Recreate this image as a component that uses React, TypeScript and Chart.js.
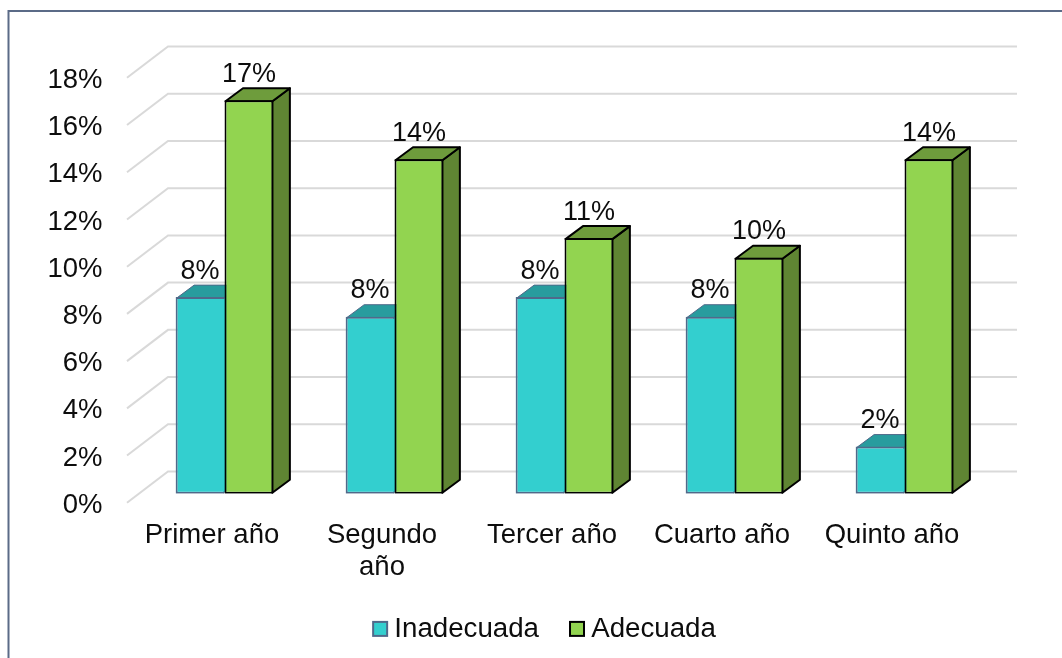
import React, { useEffect, useRef } from "react";
import { Chart, registerables } from "chart.js";

Chart.register(...registerables);

const categories = ["Primer año", ["Segundo", "año"], "Tercer año", "Cuarto año", "Quinto año"];
const inadecuada = [8.33, 7.5, 8.33, 7.5, 2.0];
const adecuada = [16.67, 14.17, 10.83, 10.0, 14.17];
const FONT = '"Liberation Sans", Arial, sans-serif';
const TEXT = "#0d0d0d";

const faces = [
  { front: "#33CFCF", top: "#289C9E", side: "#289C9E", edge: "#50698A" },
  { front: "#92D450", top: "#6E9C3C", side: "#5F8533", edge: "#000000" },
];

const BAR_DX = 17.5;
const BAR_DY = 13;
const WALL = { frontDx: -12.5, frontDy: 9, backDx: 28.5, backDy: -22.3, rightDx: 27.5 };

function poly(ctx: CanvasRenderingContext2D, pts: number[][], fill: string, stroke: string, w: number) {
  ctx.beginPath();
  pts.forEach((p, i) => (i ? ctx.lineTo(p[0], p[1]) : ctx.moveTo(p[0], p[1])));
  ctx.closePath();
  ctx.fillStyle = fill;
  ctx.fill();
  ctx.strokeStyle = stroke;
  ctx.lineWidth = w;
  ctx.lineJoin = "round";
  ctx.stroke();
}

const threeD = {
  id: "threeD",
  beforeDraw(chart: any) {
    const { ctx, width, height } = chart;
    ctx.save();
    ctx.fillStyle = "#ffffff";
    ctx.fillRect(0, 0, width, height);
    ctx.strokeStyle = "#5B6B87";
    ctx.lineWidth = 2;
    ctx.beginPath();
    ctx.moveTo(8.5, height + 5);
    ctx.lineTo(8.5, 11);
    ctx.lineTo(width + 5, 11);
    ctx.stroke();
    ctx.restore();
  },
  beforeDatasetsDraw(chart: any) {
    const { ctx, chartArea, scales } = chart;
    const y = scales.y;
    ctx.save();
    ctx.strokeStyle = "#D9D9D9";
    ctx.lineWidth = 2;
    y.ticks.forEach((t: any) => {
      const p = y.getPixelForValue(t.value);
      ctx.beginPath();
      ctx.moveTo(chartArea.left + WALL.frontDx, p + WALL.frontDy);
      ctx.lineTo(chartArea.left + WALL.backDx, p + WALL.backDy);
      ctx.lineTo(chartArea.right + WALL.rightDx, p + WALL.backDy);
      ctx.stroke();
    });
    chart.data.datasets.forEach((_: any, di: number) => {
      const f = faces[di];
      const lw = di === 0 ? 1 : 2;
      chart.getDatasetMeta(di).data.forEach((b: any) => {
        const x1 = b.x - b.width / 2;
        const x2 = b.x + b.width / 2;
        poly(ctx, [[x2 - 1, b.y + 1], [x2 - 1 + BAR_DX, b.y + 1 - BAR_DY], [x2 - 1 + BAR_DX, b.base - 1 - BAR_DY], [x2 - 1, b.base - 1]], f.side, f.edge, lw);
        poly(ctx, [[x1 + 1, b.y + 1], [x1 + 1 + BAR_DX, b.y + 1 - BAR_DY], [x2 - 1 + BAR_DX, b.y + 1 - BAR_DY], [x2 - 1, b.y + 1]], f.top, f.edge, lw);
      });
    });
    ctx.restore();
  },
  afterDatasetsDraw(chart: any) {
    const { ctx } = chart;
    ctx.save();
    ctx.font = `27px ${FONT}`;
    ctx.fillStyle = TEXT;
    ctx.textAlign = "center";
    ctx.textBaseline = "middle";
    chart.data.datasets.forEach((ds: any, di: number) => {
      chart.getDatasetMeta(di).data.forEach((b: any, i: number) => {
        ctx.fillText(`${Number(ds.data[i]).toFixed(0)}%`, b.x, b.y - 26);
      });
    });
    ctx.restore();
  },
  afterDraw(chart: any) {
    const { ctx, legend } = chart;
    if (!legend || !legend.legendHitBoxes) return;
    ctx.save();
    legend.legendHitBoxes.forEach((h: any, i: number) => {
      const cy = h.top + h.height / 2;
      ctx.fillStyle = faces[i].front;
      ctx.strokeStyle = faces[i].edge;
      ctx.lineWidth = 2;
      ctx.fillRect(h.left, cy - 7, 14, 14);
      ctx.strokeRect(h.left, cy - 7, 14, 14);
    });
    ctx.restore();
  },
};

export default function App() {
  const ref = useRef<HTMLCanvasElement | null>(null);
  useEffect(() => {
    if (!ref.current) return;
    const chart = new Chart(ref.current, {
      type: "bar",
      plugins: [threeD],
      data: {
        labels: categories as any,
        datasets: [
          {
            label: "Inadecuada",
            data: inadecuada,
            backgroundColor: faces[0].front,
            borderColor: faces[0].edge,
            borderWidth: 2,
            borderSkipped: "right",
            yAxisID: "y",
          },
          {
            label: "Adecuada",
            data: adecuada,
            backgroundColor: faces[1].front,
            borderColor: faces[1].edge,
            borderWidth: 2,
            borderSkipped: false,
            yAxisID: "y",
          },
        ],
      },
      options: {
        responsive: false,
        animation: false,
        layout: { padding: { left: 27, right: 0, top: 68.8, bottom: 5.25 } },
        datasets: { bar: { categoryPercentage: 0.575, barPercentage: 1 } },
        scales: {
          x: {
            grid: { display: false, drawTicks: false },
            border: { display: false },
            afterFit: (s: any) => { s.height = 90.25; },
            ticks: {
              font: { family: FONT, size: 27.5, lineHeight: 1.16 },
              color: TEXT,
              padding: 26,
              maxRotation: 0,
              minRotation: 0,
              autoSkip: false,
              labelOffset: -12.5,
            },
          },
          y: {
            min: 0,
            max: 18,
            grid: { display: false, drawTicks: false },
            border: { display: false },
            afterFit: (s: any) => { s.width = 112.5; },
            ticks: {
              stepSize: 2,
              font: { family: FONT, size: 27.5 },
              color: TEXT,
              padding: 37,
              labelOffset: 11.5,
              callback: (v: any) => `${v}%`,
            },
          },
          y2: {
            axis: "y",
            position: "right",
            display: true,
            grid: { display: false, drawTicks: false },
            border: { display: false },
            ticks: { display: false },
            afterFit: (s: any) => { s.width = 72.5; },
          },
        },
        plugins: {
          tooltip: { enabled: false },
          legend: {
            display: true,
            position: "bottom",
            labels: {
              boxWidth: 7.3,
              boxHeight: 14,
              padding: 31,
              color: TEXT,
              font: { family: FONT, size: 27.7 },
              generateLabels: (c: any) =>
                c.data.datasets.map((d: any, i: number) => ({
                  text: d.label,
                  fillStyle: "rgba(0,0,0,0)",
                  strokeStyle: "rgba(0,0,0,0)",
                  lineWidth: 0,
                  datasetIndex: i,
                  fontColor: TEXT,
                })),
            },
          },
        },
      },
    } as any);
    return () => chart.destroy();
  }, []);
  return (
    <div style={{ position: "fixed", left: 0, top: 0, width: 1062, height: 658, overflow: "hidden" }}>
      <canvas ref={ref} width={1062} height={658} style={{ display: "block", width: 1062, height: 658 }} />
    </div>
  );
}
